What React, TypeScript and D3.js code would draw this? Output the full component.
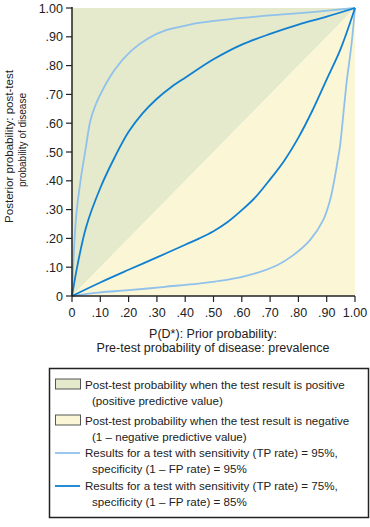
import React from 'react';
import * as d3 from 'd3';

// tick labels
const xTickValues = [0, 0.1, 0.2, 0.3, 0.4, 0.5, 0.6, 0.7, 0.8, 0.9, 1.0];
const xTickLabels = ['0', '.10', '.20', '.30', '.40', '.50', '.60', '.70', '.80', '.90', '1.00'];
const yTickValues = [0, 0.1, 0.2, 0.3, 0.4, 0.5, 0.6, 0.7, 0.8, 0.9, 1.0];
const yTickLabels = ['0', '.10', '.20', '.30', '.40', '.50', '.60', '.70', '.80', '.90', '1.00'];

// curves: [prior, posterior]
const posHigh: [number, number][] = [
  [0, 0], [0.005, 0.12], [0.015, 0.28], [0.03, 0.4], [0.048, 0.51], [0.064, 0.605],
  [0.078, 0.65], [0.095, 0.69], [0.15, 0.785], [0.21, 0.852], [0.27, 0.895],
  [0.33, 0.922], [0.42, 0.943], [0.5, 0.955], [0.66, 0.971], [0.84, 0.985], [1, 1],
];
const posLow: [number, number][] = [
  [0, 0], [0.02, 0.11], [0.05, 0.24], [0.1, 0.375], [0.15, 0.48], [0.2, 0.57],
  [0.25, 0.635], [0.3, 0.685], [0.35, 0.725], [0.4, 0.758], [0.5, 0.822],
  [0.6, 0.873], [0.7, 0.91], [0.8, 0.942], [0.9, 0.97], [1, 1],
];
const negLow: [number, number][] = [
  [0, 0], [0.1, 0.047], [0.2, 0.091], [0.3, 0.134], [0.4, 0.178], [0.45, 0.2],
  [0.5, 0.225], [0.55, 0.257], [0.6, 0.298], [0.65, 0.345], [0.7, 0.405],
  [0.75, 0.47], [0.8, 0.55], [0.85, 0.645], [0.9, 0.752], [0.95, 0.86], [1, 1],
];
const negHigh: [number, number][] = [
  [0, 0], [0.093, 0.012], [0.211, 0.021], [0.329, 0.032], [0.446, 0.043], [0.505, 0.05],
  [0.605, 0.067], [0.723, 0.106], [0.782, 0.142], [0.841, 0.194], [0.888, 0.264],
  [0.912, 0.333], [0.929, 0.414], [0.941, 0.484], [0.947, 0.52], [0.97, 0.738],
  [0.988, 0.877], [1, 1],
];

const legendLines = [
  ['Post-test probability when the test result is positive', '(positive predictive value)'],
  ['Post-test probability when the test result is negative', '(1 \u2013 negative predictive value)'],
  ['Results for a test with sensitivity (TP rate) = 95%,', 'specificity (1 \u2013 FP rate) = 95%'],
  ['Results for a test with sensitivity (TP rate) = 75%,', 'specificity (1 \u2013 FP rate) = 85%'],
];

const GREEN = '#e4eacb';
const YELLOW = '#fbf7d6';
const LIGHT = '#8fc1ec';
const DARK = '#0f7fd2';
const FONT = '"Liberation Sans", Arial, sans-serif';

export default function App() {
  const width = 370;
  const height = 527;
  const x = d3.scaleLinear().domain([0, 1]).range([72, 355]);
  const y = d3.scaleLinear().domain([0, 1]).range([296, 8]);

  const line = d3.line<[number, number]>()
    .x(d => x(d[0]))
    .y(d => y(d[1]))
    .curve(d3.curveCatmullRom.alpha(0.5));

  const tri = (pts: [number, number][]) => 'M' + pts.map(p => `${x(p[0])},${y(p[1])}`).join('L') + 'Z';

  const legendSwatch = [GREEN, YELLOW, LIGHT, DARK];
  const legendTop = [389, 425, 457, 490];

  return (
    <div style={{ position: 'absolute', left: 0, top: 0 }}>
      <svg width={width} height={height} style={{ display: 'block', fontFamily: FONT }}>
        <path d={tri([[0, 0], [0, 1], [1, 1]])} fill={GREEN} />
        <path d={tri([[0, 0], [1, 0], [1, 1]])} fill={YELLOW} />

        <path d={line(negHigh) || ''} fill="none" stroke={LIGHT} strokeWidth={1.8} />
        <path d={line(posHigh) || ''} fill="none" stroke={LIGHT} strokeWidth={1.8} />
        <path d={line(negLow) || ''} fill="none" stroke={DARK} strokeWidth={1.8} />
        <path d={line(posLow) || ''} fill="none" stroke={DARK} strokeWidth={1.8} />

        {/* y axis */}
        <line x1={x(0)} x2={x(0)} y1={y(1) - 1} y2={y(0)} stroke="#222" strokeWidth={1.5} />
        {yTickValues.map((v, i) => (
          <g key={'y' + i}>
            <line x1={x(0) - 6} x2={x(0)} y1={y(v)} y2={y(v)} stroke="#222" strokeWidth={1.2} />
            <text x={63} y={y(v) + 4.5} textAnchor="end" fontSize={12.5} fill="#222">{yTickLabels[i]}</text>
          </g>
        ))}
        {/* x axis */}
        <line x1={x(0)} x2={x(1)} y1={y(0)} y2={y(0)} stroke="#222" strokeWidth={1.5} />
        {xTickValues.map((v, i) => (
          <g key={'x' + i}>
            <line x1={x(v)} x2={x(v)} y1={y(0)} y2={y(0) + 6} stroke="#222" strokeWidth={1.2} />
            <text x={x(v)} y={317} textAnchor="middle" fontSize={12.5} fill="#222">{xTickLabels[i]}</text>
          </g>
        ))}

        <text x={213} y={338} textAnchor="middle" fontSize={12.5} fill="#222">P(D*): Prior probability:</text>
        <text x={213} y={352} textAnchor="middle" fontSize={12.5} fill="#222">Pre-test probability of disease: prevalence</text>

        <text transform={`translate(13,146.5) rotate(-90)`} textAnchor="middle" fontSize={11.5} fill="#222"
          textLength={153} lengthAdjust="spacingAndGlyphs">Posterior probability: post-test</text>
        <text transform={`translate(26,140) rotate(-90)`} textAnchor="middle" fontSize={11.5} fill="#222"
          textLength={94} lengthAdjust="spacingAndGlyphs">probability of disease</text>

        {/* legend */}
        <rect x={49.5} y={368.5} width={319} height={149} fill="#fff" stroke="#222" strokeWidth={1.5} />
        {legendLines.map((lines, i) => (
          <g key={'l' + i}>
            {i < 2 ? (
              <rect x={55.5} y={legendTop[i] - 10} width={25} height={10} fill={legendSwatch[i]} stroke="#555" strokeWidth={1} />
            ) : (
              <line x1={55} x2={80} y1={legendTop[i] - 4} y2={legendTop[i] - 4} stroke={legendSwatch[i]} strokeWidth={1.8} />
            )}
            <text x={85} y={legendTop[i]} fontSize={11.6} fill="#222">{lines[0]}</text>
            <text x={92} y={legendTop[i] + 16} fontSize={11.6} fill="#222">{lines[1]}</text>
          </g>
        ))}
      </svg>
    </div>
  );
}
